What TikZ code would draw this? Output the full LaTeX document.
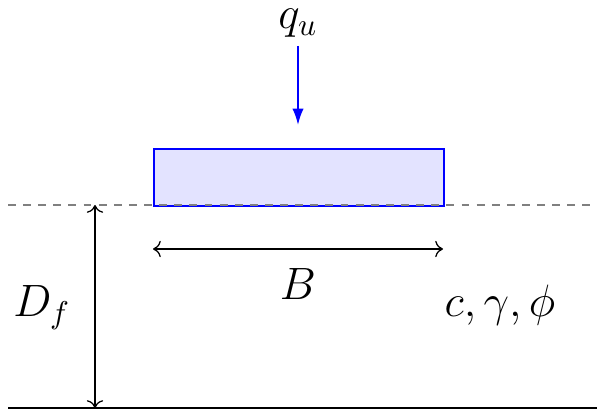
\documentclass[tikz,border=0pt]{standalone}
\usetikzlibrary{arrows.meta}
\begin{document}
\begin{tikzpicture}[x=0.3175pt,y=-0.3175pt,
  lbl/.style={font=\Large, inner sep=0pt},
  load/.style={blue, semithick, -{Latex[length=5.2pt,width=3.6pt]}},
  dimline/.style={<->, line width=0.4pt},
  footing/.style={draw=blue, fill=blue!11, semithick, inner sep=0pt, minimum width=92.07pt, minimum height=18.1pt},
  surface/.style={gray, line width=0.4pt, dash pattern=on 2.5pt off 2.3pt},
  baseline/.style={black, line width=0.45pt}]
\useasboundingbox (0,0) rectangle (597,417);
% labels
\node[lbl, anchor=base] (qu) at (298,29) {$q_u$};
\node[lbl, anchor=base] (Blab) at (298,300) {$B$};
\node[lbl, anchor=base] (Df) at (42,317) {$D_f$};
\node[lbl, anchor=base] (soil) at (500,317) {$c,\gamma,\phi$};
% footing
\node[footing, anchor=north west] (ftg) at (153,148) {};
% load arrow
\coordinate (qs) at (298,46);
\coordinate (qe) at (298,125);
\draw[load] (qs) -- (qe);
% ground surface
\coordinate (gl) at (8,205);
\coordinate (gr) at (597,205);
\draw[surface] (gl) -- (gr);
% base line
\coordinate (bl) at (8,408);
\coordinate (br) at (597,408);
\draw[baseline] (bl) -- (br);
% B dimension
\coordinate (b1) at (153,249);
\coordinate (b2) at (443,249);
\draw[dimline] (b1) -- (b2);
% Df dimension
\coordinate (d1) at (95,205);
\coordinate (d2) at (95,408);
\draw[dimline] (d1) -- (d2);
\end{tikzpicture}
\end{document}
